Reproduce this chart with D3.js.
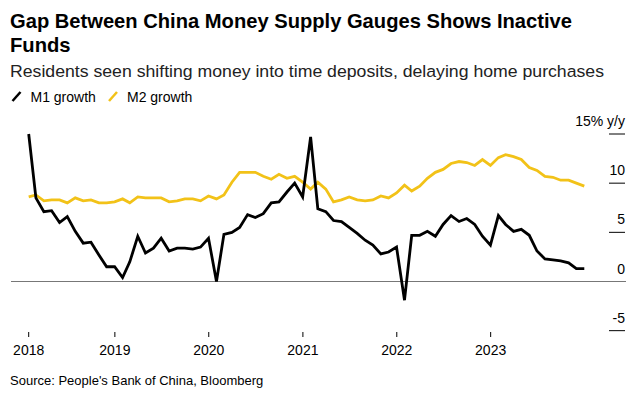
<!DOCTYPE html>
<html>
<head>
<meta charset="utf-8">
<script src="https://cdn.jsdelivr.net/npm/d3@7"></script>
<style>
  body { margin: 0; background: #fff; }
  svg { display: block; font-family: "Liberation Sans", Arial, sans-serif; }
</style>
</head>
<body>
<svg id="chart" width="638" height="395"></svg>
<script>
// Monthly y/y growth, Jan 2018 .. Dec 2023
var m1Growth = [
  15.0, 8.5, 7.1, 7.2, 6.0, 6.6, 5.1, 3.9, 4.0, 2.7, 1.5, 1.5,
  0.4, 2.0, 4.6, 2.9, 3.4, 4.4, 3.1, 3.4, 3.4, 3.3, 3.5, 4.4,
  0.0, 4.8, 5.0, 5.5, 6.8, 6.5, 6.9, 8.0, 8.1, 9.1, 10.0, 8.6,
  14.7, 7.4, 7.1, 6.2, 6.1, 5.5, 4.9, 4.2, 3.7, 2.8, 3.0, 3.5,
  -1.9, 4.7, 4.7, 5.1, 4.6, 5.8, 6.7, 6.1, 6.4, 5.8, 4.6, 3.7,
  6.7, 5.8, 5.1, 5.3, 4.7, 3.1, 2.3, 2.2, 2.1, 1.9, 1.3, 1.3
];
var m2Growth = [
  8.6, 8.8, 8.2, 8.3, 8.3, 8.0, 8.5, 8.2, 8.3, 8.0, 8.0, 8.1,
  8.4, 8.0, 8.6, 8.5, 8.5, 8.5, 8.1, 8.2, 8.4, 8.4, 8.2, 8.7,
  8.4, 8.8, 10.1, 11.1, 11.1, 11.1, 10.7, 10.4, 10.9, 10.5, 10.7, 10.1,
  9.4, 10.1, 9.4, 8.1, 8.3, 8.6, 8.3, 8.2, 8.3, 8.7, 8.5, 9.0,
  9.8, 9.2, 9.7, 10.5, 11.1, 11.4, 12.0, 12.2, 12.1, 11.8, 12.4, 11.8,
  12.6, 12.9, 12.7, 12.4, 11.6, 11.3, 10.7, 10.6, 10.3, 10.3, 10.0, 9.7
];
var years = [2018, 2019, 2020, 2021, 2022, 2023];
var yTicks = [-5, 0, 5, 10, 15];
var yTickLabels = ['-5', '0', '5', '10', '15% y/y'];
var seriesNames = ['M1 growth', 'M2 growth'];
var seriesColors = ['#000000', '#f2c218'];

// month-end dates for each observation
var months = d3.range(m1Growth.length).map(function (i) {
  return new Date(2018, i + 1, 0);
});

var svg = d3.select('#chart');

// Title, subtitle
svg.append('text')
  .attr('x', 10).attr('y', 28)
  .attr('font-size', 20.2).attr('font-weight', 'bold').attr('fill', '#000')
  .attr('textLength', 562).attr('lengthAdjust', 'spacingAndGlyphs')
  .text('Gap Between China Money Supply Gauges Shows Inactive');
svg.append('text')
  .attr('x', 10).attr('y', 51.5)
  .attr('font-size', 20.2).attr('font-weight', 'bold').attr('fill', '#000')
  .text('Funds');
svg.append('text')
  .attr('x', 10).attr('y', 76.5)
  .attr('font-size', 16.8).attr('fill', '#222')
  .attr('textLength', 594).attr('lengthAdjust', 'spacingAndGlyphs')
  .text('Residents seen shifting money into time deposits, delaying home purchases');

// Legend
var legend = svg.append('g');
var legendX = [11.5, 108];
seriesNames.forEach(function (name, i) {
  var g = legend.append('g').attr('transform', 'translate(' + legendX[i] + ',0)');
  g.append('line')
    .attr('x1', 1).attr('y1', 101).attr('x2', 9).attr('y2', 92)
    .attr('stroke', seriesColors[i]).attr('stroke-width', 2.5);
  g.append('text')
    .attr('x', 19).attr('y', 101.5)
    .attr('font-size', 14).attr('fill', '#000')
    .text(name);
});

// Scales
var x = d3.scaleTime()
  .domain([months[0], months[months.length - 1]])
  .range([28.7, 584.3])
  .clamp(true);
var y = d3.scaleLinear()
  .domain([0, 15])
  .range([281.5, 134]);

// Right axis: short tick lines with labels above them
var yAxis = svg.append('g');
yTicks.forEach(function (v, i) {
  yAxis.append('line')
    .attr('x1', 609).attr('x2', 625)
    .attr('y1', y(v)).attr('y2', y(v))
    .attr('stroke', '#000').attr('stroke-width', 1);
  yAxis.append('text')
    .attr('x', 625).attr('y', y(v) - 8)
    .attr('text-anchor', 'end')
    .attr('font-size', 14).attr('fill', '#000')
    .text(yTickLabels[i]);
});

// Zero line
svg.append('line')
  .attr('x1', 11).attr('x2', 626)
  .attr('y1', y(0)).attr('y2', y(0))
  .attr('stroke', '#777').attr('stroke-width', 1);

// Bottom axis
var xAxis = svg.append('g');
years.forEach(function (yr) {
  var tx = x(new Date(yr, 0, 1));
  xAxis.append('line')
    .attr('x1', tx).attr('x2', tx)
    .attr('y1', 332).attr('y2', 337)
    .attr('stroke', '#000').attr('stroke-width', 1);
  xAxis.append('text')
    .attr('x', tx).attr('y', 355)
    .attr('text-anchor', 'middle')
    .attr('font-size', 14).attr('fill', '#000')
    .text(yr);
});

// Lines (M2 drawn first, M1 on top)
var line = d3.line()
  .x(function (d, i) { return x(months[i]); })
  .y(function (d) { return y(d); });

[m2Growth, m1Growth].forEach(function (s, k) {
  svg.append('path')
    .datum(s)
    .attr('d', line)
    .attr('fill', 'none')
    .attr('stroke', seriesColors[1 - k])
    .attr('stroke-width', 2.8)
    .attr('stroke-linejoin', 'miter');
});

// Source
svg.append('text')
  .attr('x', 10).attr('y', 385)
  .attr('font-size', 13).attr('fill', '#000')
  .text("Source: People's Bank of China, Bloomberg");
</script>
</body>
</html>
